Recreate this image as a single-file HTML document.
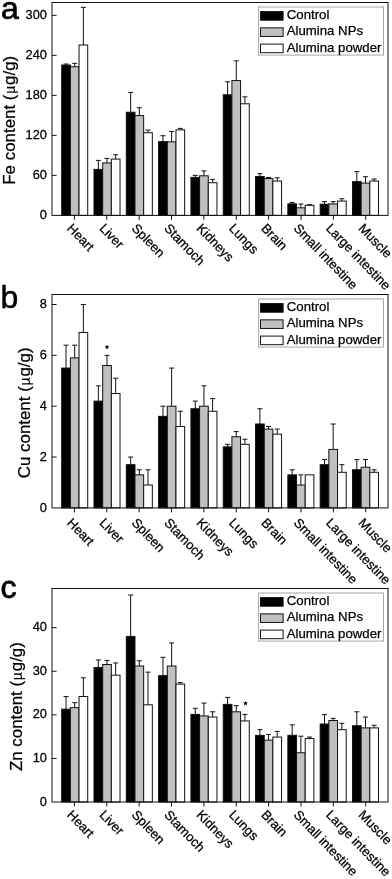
<!DOCTYPE html>
<html>
<head>
<meta charset="utf-8">
<title>Fe, Cu and Zn content in organs</title>
<style>
html, body { margin: 0; padding: 0; background: #fff; }
body { width: 392px; height: 879px; overflow: hidden; font-family: "Liberation Sans", sans-serif; }
svg { display: block; will-change: transform; filter: grayscale(1); }
svg text { font-family: "Liberation Sans", sans-serif; fill: #000; stroke: #000; stroke-width: 0.25; }
.l { stroke: #111; stroke-width: 1; fill: none; }
.b { stroke: #111; stroke-width: 1; }
</style>
</head>
<body>
<svg width="392" height="879" viewBox="0 0 392 879">
<rect x="0" y="0" width="392" height="879" fill="#fff"/>
<path d="M66.03 65.04V64.04M63.53 64.04H68.53" class="l"/>
<rect x="61.7" y="65.04" width="8.67" height="150.36" fill="#000" class="b"/>
<path d="M74.7 66.7V63.37M72.2 63.37H77.2" class="l"/>
<rect x="70.37" y="66.7" width="8.67" height="148.7" fill="#c0c0c0" class="b"/>
<path d="M83.37 45.03V7.36M80.87 7.36H85.87" class="l"/>
<rect x="79.04" y="45.03" width="8.67" height="170.37" fill="#fff" class="b"/>
<path d="M98.34 169.39V160.39M95.84 160.39H100.84" class="l"/>
<rect x="94.01" y="169.39" width="8.67" height="46.01" fill="#000" class="b"/>
<path d="M107.01 162.92V158.39M104.51 158.39H109.51" class="l"/>
<rect x="102.68" y="162.92" width="8.67" height="52.48" fill="#c0c0c0" class="b"/>
<path d="M115.68 159.12V154.72M113.18 154.72H118.18" class="l"/>
<rect x="111.35" y="159.12" width="8.67" height="56.28" fill="#fff" class="b"/>
<path d="M130.65 112.25V92.38M128.15 92.38H133.15" class="l"/>
<rect x="126.31" y="112.25" width="8.67" height="103.15" fill="#000" class="b"/>
<path d="M139.32 115.58V107.71M136.82 107.71H141.82" class="l"/>
<rect x="134.98" y="115.58" width="8.67" height="99.82" fill="#c0c0c0" class="b"/>
<path d="M147.99 132.72V130.05M145.49 130.05H150.49" class="l"/>
<rect x="143.66" y="132.72" width="8.67" height="82.68" fill="#fff" class="b"/>
<path d="M162.96 141.65V135.72M160.46 135.72H165.46" class="l"/>
<rect x="158.62" y="141.65" width="8.67" height="73.75" fill="#000" class="b"/>
<path d="M171.63 141.85V131.38M169.13 131.38H174.13" class="l"/>
<rect x="167.29" y="141.85" width="8.67" height="73.55" fill="#c0c0c0" class="b"/>
<path d="M180.3 129.85V128.38M177.8 128.38H182.8" class="l"/>
<rect x="175.97" y="129.85" width="8.67" height="85.55" fill="#fff" class="b"/>
<path d="M195.27 177.39V175.39M192.77 175.39H197.77" class="l"/>
<rect x="190.94" y="177.39" width="8.67" height="38.01" fill="#000" class="b"/>
<path d="M203.94 175.79V170.92M201.44 170.92H206.44" class="l"/>
<rect x="199.6" y="175.79" width="8.67" height="39.61" fill="#c0c0c0" class="b"/>
<path d="M212.61 182.73V179.39M210.11 179.39H215.11" class="l"/>
<rect x="208.28" y="182.73" width="8.67" height="32.67" fill="#fff" class="b"/>
<path d="M227.58 94.78V81.77M225.08 81.77H230.08" class="l"/>
<rect x="223.25" y="94.78" width="8.67" height="120.62" fill="#000" class="b"/>
<path d="M236.25 80.57V60.9M233.75 60.9H238.75" class="l"/>
<rect x="231.91" y="80.57" width="8.67" height="134.83" fill="#c0c0c0" class="b"/>
<path d="M244.92 103.78V96.84M242.42 96.84H247.42" class="l"/>
<rect x="240.59" y="103.78" width="8.67" height="111.62" fill="#fff" class="b"/>
<path d="M259.89 176.46V173.66M257.39 173.66H262.39" class="l"/>
<rect x="255.56" y="176.46" width="8.67" height="38.94" fill="#000" class="b"/>
<path d="M268.56 178.53V177.46M266.06 177.46H271.06" class="l"/>
<rect x="264.23" y="178.53" width="8.67" height="36.87" fill="#c0c0c0" class="b"/>
<path d="M277.23 181.06V177.79M274.73 177.79H279.73" class="l"/>
<rect x="272.89" y="181.06" width="8.67" height="34.34" fill="#fff" class="b"/>
<path d="M292.2 203.86V202.46M289.7 202.46H294.7" class="l"/>
<rect x="287.87" y="203.86" width="8.67" height="11.54" fill="#000" class="b"/>
<path d="M300.87 207.8V204M298.37 204H303.37" class="l"/>
<rect x="296.54" y="207.8" width="8.67" height="7.6" fill="#c0c0c0" class="b"/>
<path d="M309.54 205.33V204.73M307.04 204.73H312.04" class="l"/>
<rect x="305.2" y="205.33" width="8.67" height="10.07" fill="#fff" class="b"/>
<path d="M324.51 204.2V201.6M322.01 201.6H327.01" class="l"/>
<rect x="320.18" y="204.2" width="8.67" height="11.2" fill="#000" class="b"/>
<path d="M333.18 203.93V201.6M330.68 201.6H335.68" class="l"/>
<rect x="328.85" y="203.93" width="8.67" height="11.47" fill="#c0c0c0" class="b"/>
<path d="M341.85 201.06V198.73M339.35 198.73H344.35" class="l"/>
<rect x="337.51" y="201.06" width="8.67" height="14.34" fill="#fff" class="b"/>
<path d="M356.82 181.59V171.59M354.32 171.59H359.32" class="l"/>
<rect x="352.49" y="181.59" width="8.67" height="33.81" fill="#000" class="b"/>
<path d="M365.49 183.06V176.73M362.99 176.73H367.99" class="l"/>
<rect x="361.16" y="183.06" width="8.67" height="32.34" fill="#c0c0c0" class="b"/>
<path d="M374.16 181.06V179.06M371.66 179.06H376.66" class="l"/>
<rect x="369.82" y="181.06" width="8.67" height="34.34" fill="#fff" class="b"/>
<rect x="52" y="2.5" width="336" height="212.9" fill="none" class="l"/>
<text transform="translate(46.9 219.15) scale(0.985 1.03)" text-anchor="end" font-size="13">0</text>
<text transform="translate(46.9 179.14) scale(0.985 1.03)" text-anchor="end" font-size="13">60</text>
<text transform="translate(46.9 139.13) scale(0.985 1.03)" text-anchor="end" font-size="13">120</text>
<text transform="translate(46.9 99.13) scale(0.985 1.03)" text-anchor="end" font-size="13">180</text>
<text transform="translate(46.9 59.12) scale(0.985 1.03)" text-anchor="end" font-size="13">240</text>
<text transform="translate(46.9 19.11) scale(0.985 1.03)" text-anchor="end" font-size="13">300</text>
<path d="M52 175.39h4.6M52 135.38h4.6M52 95.38h4.6M52 55.37h4.6M52 15.36h4.6M74.4 215.4v4.4M106.77 215.4v4.4M139.14 215.4v4.4M171.51 215.4v4.4M203.88 215.4v4.4M236.25 215.4v4.4M268.62 215.4v4.4M300.99 215.4v4.4M333.36 215.4v4.4M365.73 215.4v4.4" class="l"/>
<text transform="translate(66.3 229) rotate(45.9)" font-size="13.1">Heart</text>
<text transform="translate(98.67 229) rotate(45.9)" font-size="13.1">Liver</text>
<text transform="translate(131.04 229) rotate(45.9)" font-size="13.1">Spleen</text>
<text transform="translate(163.41 229) rotate(45.9)" font-size="13.1">Stamoch</text>
<text transform="translate(195.78 229) rotate(45.9)" font-size="13.1">Kidneys</text>
<text transform="translate(228.15 229) rotate(45.9)" font-size="13.1">Lungs</text>
<text transform="translate(260.52 229) rotate(45.9)" font-size="13.1">Brain</text>
<text transform="translate(292.89 229) rotate(45.9)" font-size="13.1">Small intestine</text>
<text transform="translate(325.26 229) rotate(45.9)" font-size="13.1">Large intestine</text>
<text transform="translate(357.63 229) rotate(45.9)" font-size="13.1">Muscle</text>
<text transform="translate(15.2 120.25) rotate(-90)" text-anchor="middle" font-size="16.9">Fe content (<tspan font-size="14" dx="0.8" style="stroke-width:0.1">µ</tspan><tspan dx="0.8">g/g)</tspan></text>
<text x="1.0" y="19.1" font-size="32" style="stroke-width:0.7">a</text>
<rect x="258.6" y="7" width="124.9" height="48.1" fill="#fff" stroke="#a8a8a8" stroke-width="1"/>
<rect x="260.5" y="11.6" width="22.6" height="8.6" fill="#000" class="b"/>
<text x="286.8" y="19.1" font-size="13.2">Control</text>
<rect x="260.5" y="27.85" width="22.6" height="8.6" fill="#c0c0c0" class="b"/>
<text x="286.8" y="35.35" font-size="13.2">Alumina NPs</text>
<rect x="260.5" y="44.1" width="22.6" height="8.6" fill="#fff" class="b"/>
<text x="286.8" y="51.6" font-size="13.2">Alumina powder</text>
<path d="M66.03 368.06V345.18M63.53 345.18H68.53" class="l"/>
<rect x="61.7" y="368.06" width="8.67" height="139.84" fill="#000" class="b"/>
<path d="M74.7 357.89V345.18M72.2 345.18H77.2" class="l"/>
<rect x="70.37" y="357.89" width="8.67" height="150.01" fill="#c0c0c0" class="b"/>
<path d="M83.37 332.47V304.5M80.87 304.5H85.87" class="l"/>
<rect x="79.04" y="332.47" width="8.67" height="175.43" fill="#fff" class="b"/>
<path d="M98.34 401.11V385.86M95.84 385.86H100.84" class="l"/>
<rect x="94.01" y="401.11" width="8.67" height="106.79" fill="#000" class="b"/>
<path d="M107.01 365.52V355.35M104.51 355.35H109.51" class="l"/>
<rect x="102.68" y="365.52" width="8.67" height="142.38" fill="#c0c0c0" class="b"/>
<path d="M115.68 393.49V378.23M113.18 378.23H118.18" class="l"/>
<rect x="111.35" y="393.49" width="8.67" height="114.41" fill="#fff" class="b"/>
<path d="M130.65 464.68V457.05M128.15 457.05H133.15" class="l"/>
<rect x="126.31" y="464.68" width="8.67" height="43.22" fill="#000" class="b"/>
<path d="M139.32 474.85V469.76M136.82 469.76H141.82" class="l"/>
<rect x="134.98" y="474.85" width="8.67" height="33.05" fill="#c0c0c0" class="b"/>
<path d="M147.99 485.02V469.76M145.49 469.76H150.49" class="l"/>
<rect x="143.66" y="485.02" width="8.67" height="22.88" fill="#fff" class="b"/>
<path d="M162.96 416.37V406.2M160.46 406.2H165.46" class="l"/>
<rect x="158.62" y="416.37" width="8.67" height="91.53" fill="#000" class="b"/>
<path d="M171.63 406.2V368.06M169.13 368.06H174.13" class="l"/>
<rect x="167.29" y="406.2" width="8.67" height="101.7" fill="#c0c0c0" class="b"/>
<path d="M180.3 426.54V411.28M177.8 411.28H182.8" class="l"/>
<rect x="175.97" y="426.54" width="8.67" height="81.36" fill="#fff" class="b"/>
<path d="M195.27 408.74V401.11M192.77 401.11H197.77" class="l"/>
<rect x="190.94" y="408.74" width="8.67" height="99.16" fill="#000" class="b"/>
<path d="M203.94 406.2V385.86M201.44 385.86H206.44" class="l"/>
<rect x="199.6" y="406.2" width="8.67" height="101.7" fill="#c0c0c0" class="b"/>
<path d="M212.61 411.28V398.57M210.11 398.57H215.11" class="l"/>
<rect x="208.28" y="411.28" width="8.67" height="96.62" fill="#fff" class="b"/>
<path d="M227.58 446.88V444.34M225.08 444.34H230.08" class="l"/>
<rect x="223.25" y="446.88" width="8.67" height="61.02" fill="#000" class="b"/>
<path d="M236.25 436.71V431.62M233.75 431.62H238.75" class="l"/>
<rect x="231.91" y="436.71" width="8.67" height="71.19" fill="#c0c0c0" class="b"/>
<path d="M244.92 444.34V439.25M242.42 439.25H247.42" class="l"/>
<rect x="240.59" y="444.34" width="8.67" height="63.56" fill="#fff" class="b"/>
<path d="M259.89 424V408.74M257.39 408.74H262.39" class="l"/>
<rect x="255.56" y="424" width="8.67" height="83.9" fill="#000" class="b"/>
<path d="M268.56 429.08V426.54M266.06 426.54H271.06" class="l"/>
<rect x="264.23" y="429.08" width="8.67" height="78.82" fill="#c0c0c0" class="b"/>
<path d="M277.23 434.17V429.08M274.73 429.08H279.73" class="l"/>
<rect x="272.89" y="434.17" width="8.67" height="73.73" fill="#fff" class="b"/>
<path d="M292.2 474.85V469.76M289.7 469.76H294.7" class="l"/>
<rect x="287.87" y="474.85" width="8.67" height="33.05" fill="#000" class="b"/>
<path d="M300.87 485.02V474.85M298.37 474.85H303.37" class="l"/>
<rect x="296.54" y="485.02" width="8.67" height="22.88" fill="#c0c0c0" class="b"/>
<rect x="305.2" y="474.85" width="8.67" height="33.05" fill="#fff" class="b"/>
<path d="M324.51 464.68V459.59M322.01 459.59H327.01" class="l"/>
<rect x="320.18" y="464.68" width="8.67" height="43.22" fill="#000" class="b"/>
<path d="M333.18 449.42V424M330.68 424H335.68" class="l"/>
<rect x="328.85" y="449.42" width="8.67" height="58.48" fill="#c0c0c0" class="b"/>
<path d="M341.85 472.3V464.68M339.35 464.68H344.35" class="l"/>
<rect x="337.51" y="472.3" width="8.67" height="35.6" fill="#fff" class="b"/>
<path d="M356.82 469.76V459.59M354.32 459.59H359.32" class="l"/>
<rect x="352.49" y="469.76" width="8.67" height="38.14" fill="#000" class="b"/>
<path d="M365.49 467.22V459.59M362.99 459.59H367.99" class="l"/>
<rect x="361.16" y="467.22" width="8.67" height="40.68" fill="#c0c0c0" class="b"/>
<path d="M374.16 472.3V469.76M371.66 469.76H376.66" class="l"/>
<rect x="369.82" y="472.3" width="8.67" height="35.6" fill="#fff" class="b"/>
<rect x="52" y="294.5" width="336" height="213.4" fill="none" class="l"/>
<text transform="translate(46.9 511.7) scale(0.985 1.03)" text-anchor="end" font-size="13">0</text>
<text transform="translate(46.9 460.85) scale(0.985 1.03)" text-anchor="end" font-size="13">2</text>
<text transform="translate(46.9 410) scale(0.985 1.03)" text-anchor="end" font-size="13">4</text>
<text transform="translate(46.9 359.15) scale(0.985 1.03)" text-anchor="end" font-size="13">6</text>
<text transform="translate(46.9 308.3) scale(0.985 1.03)" text-anchor="end" font-size="13">8</text>
<path d="M52 457.05h4.6M52 406.2h4.6M52 355.35h4.6M52 304.5h4.6M74.4 507.9v4.4M106.77 507.9v4.4M139.14 507.9v4.4M171.51 507.9v4.4M203.88 507.9v4.4M236.25 507.9v4.4M268.62 507.9v4.4M300.99 507.9v4.4M333.36 507.9v4.4M365.73 507.9v4.4" class="l"/>
<text transform="translate(66.3 523.6) rotate(45.9)" font-size="13.1">Heart</text>
<text transform="translate(98.67 523.6) rotate(45.9)" font-size="13.1">Liver</text>
<text transform="translate(131.04 523.6) rotate(45.9)" font-size="13.1">Spleen</text>
<text transform="translate(163.41 523.6) rotate(45.9)" font-size="13.1">Stamoch</text>
<text transform="translate(195.78 523.6) rotate(45.9)" font-size="13.1">Kidneys</text>
<text transform="translate(228.15 523.6) rotate(45.9)" font-size="13.1">Lungs</text>
<text transform="translate(260.52 523.6) rotate(45.9)" font-size="13.1">Brain</text>
<text transform="translate(292.89 523.6) rotate(45.9)" font-size="13.1">Small intestine</text>
<text transform="translate(325.26 523.6) rotate(45.9)" font-size="13.1">Large intestine</text>
<text transform="translate(357.63 523.6) rotate(45.9)" font-size="13.1">Muscle</text>
<text transform="translate(29.9 412.85) rotate(-90)" text-anchor="middle" font-size="16.9">Cu content (<tspan font-size="14" dx="0.8" style="stroke-width:0.1">µ</tspan><tspan dx="0.8">g/g)</tspan></text>
<text x="0.5" y="308.2" font-size="32" style="stroke-width:0.5">b</text>
<rect x="258.6" y="299" width="124.9" height="48.1" fill="#fff" stroke="#a8a8a8" stroke-width="1"/>
<rect x="260.5" y="303.6" width="22.6" height="8.6" fill="#000" class="b"/>
<text x="286.8" y="311.1" font-size="13.2">Control</text>
<rect x="260.5" y="319.85" width="22.6" height="8.6" fill="#c0c0c0" class="b"/>
<text x="286.8" y="327.35" font-size="13.2">Alumina NPs</text>
<rect x="260.5" y="336.1" width="22.6" height="8.6" fill="#fff" class="b"/>
<text x="286.8" y="343.6" font-size="13.2">Alumina powder</text>
<polygon points="107.01,344.6 107.63,346.35 109.48,346.4 108.01,347.52 108.54,349.3 107.01,348.25 105.48,349.3 106.01,347.52 104.54,346.4 106.39,346.35" fill="#000"/>
<path d="M66.03 709.17V696.54M63.53 696.54H68.53" class="l"/>
<rect x="61.7" y="709.17" width="8.67" height="92.83" fill="#000" class="b"/>
<path d="M74.7 707.65V702.64M72.2 702.64H77.2" class="l"/>
<rect x="70.37" y="707.65" width="8.67" height="94.35" fill="#c0c0c0" class="b"/>
<path d="M83.37 696.54V677.8M80.87 677.8H85.87" class="l"/>
<rect x="79.04" y="696.54" width="8.67" height="105.46" fill="#fff" class="b"/>
<path d="M98.34 667.56V659.93M95.84 659.93H100.84" class="l"/>
<rect x="94.01" y="667.56" width="8.67" height="134.44" fill="#000" class="b"/>
<path d="M107.01 664.51V660.37M104.51 660.37H109.51" class="l"/>
<rect x="102.68" y="664.51" width="8.67" height="137.49" fill="#c0c0c0" class="b"/>
<path d="M115.68 675.18V662.98M113.18 662.98H118.18" class="l"/>
<rect x="111.35" y="675.18" width="8.67" height="126.82" fill="#fff" class="b"/>
<path d="M130.65 636.4V595M128.15 595H133.15" class="l"/>
<rect x="126.31" y="636.4" width="8.67" height="165.6" fill="#000" class="b"/>
<path d="M139.32 666.03V660.8M136.82 660.8H141.82" class="l"/>
<rect x="134.98" y="666.03" width="8.67" height="135.97" fill="#c0c0c0" class="b"/>
<path d="M147.99 704.82V672.13M145.49 672.13H150.49" class="l"/>
<rect x="143.66" y="704.82" width="8.67" height="97.18" fill="#fff" class="b"/>
<path d="M162.96 675.62V657.31M160.46 657.31H165.46" class="l"/>
<rect x="158.62" y="675.62" width="8.67" height="126.38" fill="#000" class="b"/>
<path d="M171.63 666.03V642.93M169.13 642.93H174.13" class="l"/>
<rect x="167.29" y="666.03" width="8.67" height="135.97" fill="#c0c0c0" class="b"/>
<path d="M180.3 684.12V682.59M177.8 682.59H182.8" class="l"/>
<rect x="175.97" y="684.12" width="8.67" height="117.88" fill="#fff" class="b"/>
<path d="M195.27 714.4V708.3M192.77 708.3H197.77" class="l"/>
<rect x="190.94" y="714.4" width="8.67" height="87.6" fill="#000" class="b"/>
<path d="M203.94 715.93V703.07M201.44 703.07H206.44" class="l"/>
<rect x="199.6" y="715.93" width="8.67" height="86.07" fill="#c0c0c0" class="b"/>
<path d="M212.61 717.02V711.79M210.11 711.79H215.11" class="l"/>
<rect x="208.28" y="717.02" width="8.67" height="84.98" fill="#fff" class="b"/>
<path d="M227.58 704.38V697.41M225.08 697.41H230.08" class="l"/>
<rect x="223.25" y="704.38" width="8.67" height="97.62" fill="#000" class="b"/>
<path d="M236.25 711.79V705.69M233.75 705.69H238.75" class="l"/>
<rect x="231.91" y="711.79" width="8.67" height="90.21" fill="#c0c0c0" class="b"/>
<path d="M244.92 720.94V714.4M242.42 714.4H247.42" class="l"/>
<rect x="240.59" y="720.94" width="8.67" height="81.06" fill="#fff" class="b"/>
<path d="M259.89 735.32V729.66M257.39 729.66H262.39" class="l"/>
<rect x="255.56" y="735.32" width="8.67" height="66.68" fill="#000" class="b"/>
<path d="M268.56 740.12V734.45M266.06 734.45H271.06" class="l"/>
<rect x="264.23" y="740.12" width="8.67" height="61.88" fill="#c0c0c0" class="b"/>
<path d="M277.23 737.07V731.4M274.73 731.4H279.73" class="l"/>
<rect x="272.89" y="737.07" width="8.67" height="64.93" fill="#fff" class="b"/>
<path d="M292.2 735.32V724.86M289.7 724.86H294.7" class="l"/>
<rect x="287.87" y="735.32" width="8.67" height="66.68" fill="#000" class="b"/>
<path d="M300.87 752.75V736.19M298.37 736.19H303.37" class="l"/>
<rect x="296.54" y="752.75" width="8.67" height="49.25" fill="#c0c0c0" class="b"/>
<path d="M309.54 738.59V737.07M307.04 737.07H312.04" class="l"/>
<rect x="305.2" y="738.59" width="8.67" height="63.41" fill="#fff" class="b"/>
<path d="M324.51 723.99V714.62M322.01 714.62H327.01" class="l"/>
<rect x="320.18" y="723.99" width="8.67" height="78.01" fill="#000" class="b"/>
<path d="M333.18 720.51V718.33M330.68 718.33H335.68" class="l"/>
<rect x="328.85" y="720.51" width="8.67" height="81.49" fill="#c0c0c0" class="b"/>
<path d="M341.85 729.66V723.34M339.35 723.34H344.35" class="l"/>
<rect x="337.51" y="729.66" width="8.67" height="72.34" fill="#fff" class="b"/>
<path d="M356.82 725.74V711.79M354.32 711.79H359.32" class="l"/>
<rect x="352.49" y="725.74" width="8.67" height="76.26" fill="#000" class="b"/>
<path d="M365.49 727.91V717.02M362.99 717.02H367.99" class="l"/>
<rect x="361.16" y="727.91" width="8.67" height="74.09" fill="#c0c0c0" class="b"/>
<path d="M374.16 727.91V725.3M371.66 725.3H376.66" class="l"/>
<rect x="369.82" y="727.91" width="8.67" height="74.09" fill="#fff" class="b"/>
<rect x="52" y="588.5" width="336" height="213.5" fill="none" class="l"/>
<text transform="translate(46.9 805.5) scale(0.985 1.03)" text-anchor="end" font-size="13">0</text>
<text transform="translate(46.9 761.92) scale(0.985 1.03)" text-anchor="end" font-size="13">10</text>
<text transform="translate(46.9 718.34) scale(0.985 1.03)" text-anchor="end" font-size="13">20</text>
<text transform="translate(46.9 674.76) scale(0.985 1.03)" text-anchor="end" font-size="13">30</text>
<text transform="translate(46.9 631.18) scale(0.985 1.03)" text-anchor="end" font-size="13">40</text>
<path d="M52 758.42h4.6M52 714.84h4.6M52 671.26h4.6M52 627.68h4.6M74.4 802v4.4M106.77 802v4.4M139.14 802v4.4M171.51 802v4.4M203.88 802v4.4M236.25 802v4.4M268.62 802v4.4M300.99 802v4.4M333.36 802v4.4M365.73 802v4.4" class="l"/>
<text transform="translate(66.3 815.6) rotate(45.9)" font-size="13.1">Heart</text>
<text transform="translate(98.67 815.6) rotate(45.9)" font-size="13.1">Liver</text>
<text transform="translate(131.04 815.6) rotate(45.9)" font-size="13.1">Spleen</text>
<text transform="translate(163.41 815.6) rotate(45.9)" font-size="13.1">Stamoch</text>
<text transform="translate(195.78 815.6) rotate(45.9)" font-size="13.1">Kidneys</text>
<text transform="translate(228.15 815.6) rotate(45.9)" font-size="13.1">Lungs</text>
<text transform="translate(260.52 815.6) rotate(45.9)" font-size="13.1">Brain</text>
<text transform="translate(292.89 815.6) rotate(45.9)" font-size="13.1">Small intestine</text>
<text transform="translate(325.26 815.6) rotate(45.9)" font-size="13.1">Large intestine</text>
<text transform="translate(357.63 815.6) rotate(45.9)" font-size="13.1">Muscle</text>
<text transform="translate(22.3 706.6) rotate(-90)" text-anchor="middle" font-size="16.9">Zn content (<tspan font-size="14" dx="0.8" style="stroke-width:0.1">µ</tspan><tspan dx="0.8">g/g)</tspan></text>
<text x="0.5" y="597.8" font-size="32" style="stroke-width:0.8">c</text>
<rect x="258.6" y="593" width="124.9" height="48.1" fill="#fff" stroke="#a8a8a8" stroke-width="1"/>
<rect x="260.5" y="597.6" width="22.6" height="8.6" fill="#000" class="b"/>
<text x="286.8" y="605.1" font-size="13.2">Control</text>
<rect x="260.5" y="613.85" width="22.6" height="8.6" fill="#c0c0c0" class="b"/>
<text x="286.8" y="621.35" font-size="13.2">Alumina NPs</text>
<rect x="260.5" y="630.1" width="22.6" height="8.6" fill="#fff" class="b"/>
<text x="286.8" y="637.6" font-size="13.2">Alumina powder</text>
<polygon points="245.53,700.8 246.14,702.55 248,702.6 246.53,703.72 247.06,705.5 245.53,704.45 244,705.5 244.53,703.72 243.05,702.6 244.91,702.55" fill="#000"/>
</svg>
</body>
</html>
